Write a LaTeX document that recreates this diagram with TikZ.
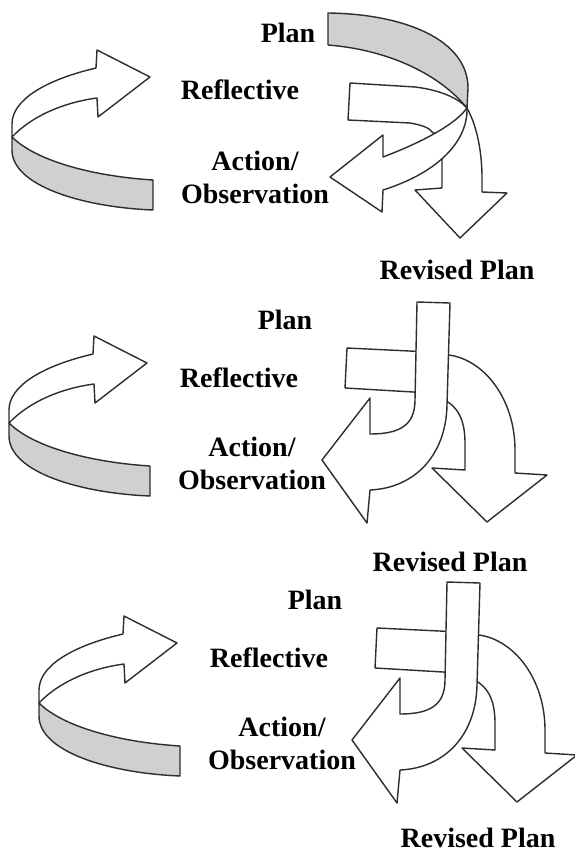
\documentclass[tikz,border=0pt]{standalone}
\usepackage{fontspec}
\setmainfont{Liberation Serif}
\definecolor{bandGray}{RGB}{208,208,208}
\definecolor{edgeGray}{RGB}{45,45,45}

\begin{document}
\begin{tikzpicture}[x=1pt, y=-1pt, line join=round,
  ribbon/.style={draw=edgeGray, line width=1.4pt, fill=white},
  backside/.style={ribbon, fill=bandGray},
  lbl/.style={font=\fontsize{28}{33}\selectfont\bfseries, align=center, inner sep=0pt}]

  \useasboundingbox (0,0) rectangle (574,853);

  % curled arrows on the left
  \foreach \dx/\dy in {0/0, -3/286, 27/566} {
    \begin{scope}[shift={(\dx,\dy)}]
      \draw[ribbon] (96,68) .. controls (45,80) and (12,100) .. (12,124) -- (12,137)
        .. controls (30,118) and (60,103) .. (97,98) -- (98,117) -- (150,77) -- (97,50) -- cycle;
      \draw[backside] (12,137) -- (12,150) .. controls (12,185) and (80,207) .. (153,210)
        -- (153,180) .. controls (90,176) and (35,160) .. (12,137) -- cycle;
    \end{scope}
  }

  % first cycle: twisted ribbon
  \draw[ribbon] (467,108) .. controls (478,128) and (482,155) .. (482,178) -- (482,192)
    -- (507,193) -- (460,238) -- (415,190) -- (442,188) -- (442,150) -- (455,128) -- cycle;
  \draw[backside] (328,13) .. controls (405,14) and (468,40) .. (468,88) -- (467,108)
    .. controls (440,75) and (390,50) .. (328,45) -- cycle;
  \draw[ribbon] (350,83) -- (415,87) .. controls (440,90) and (458,98) .. (467,108)
    -- (452,135) -- (433,133) .. controls (430,128) and (422,125) .. (410,123) -- (348,120) -- cycle;
  \draw[ribbon] (383,157) .. controls (420,143) and (455,125) .. (467,108)
    .. controls (468,140) and (440,172) .. (383,190) -- (382,212) -- (330,177) -- (383,135) -- cycle;

  % second and third cycle: split arrows
  \foreach \dx/\dy in {0/0, 30/280} {
    \begin{scope}[shift={(\dx,\dy)}]
      \draw[ribbon] (440,355) -- (449,355) .. controls (485,360) and (515,400) .. (515,450)
        -- (515,473) -- (547,475) -- (487,522) -- (432,468) -- (465,470) -- (465,443)
        .. controls (465,420) and (458,405) .. (440,398) -- cycle;
      \draw[ribbon] (347,348) -- (430,352) -- (430,393) -- (345,388) -- cycle;
      \draw[ribbon] (417,302) -- (450,303) -- (447,405) .. controls (446,455) and (415,488) .. (370,490)
        -- (367,523) -- (322,460) -- (370,398) -- (370,434)
        .. controls (400,434) and (415,425) .. (415,400) -- cycle;
    \end{scope}
  }

  \node[lbl] (plan1) at (288,33)  {Plan};
  \node[lbl] (refl1) at (240,90)  {Reflective};
  \node[lbl] (act1)  at (255,177) {Action/\\Observation};
  \node[lbl] (rev1)  at (457,270) {Revised Plan};

  \node[lbl] (plan2) at (285,320) {Plan};
  \node[lbl] (refl2) at (239,378) {Reflective};
  \node[lbl] (act2)  at (252,463) {Action/\\Observation};
  \node[lbl] (rev2)  at (450,562) {Revised Plan};

  \node[lbl] (plan3) at (315,600) {Plan};
  \node[lbl] (refl3) at (269,658) {Reflective};
  \node[lbl] (act3)  at (282,743) {Action/\\Observation};
  \node[lbl] (rev3)  at (478,838) {Revised Plan};

\end{tikzpicture}
\end{document}
